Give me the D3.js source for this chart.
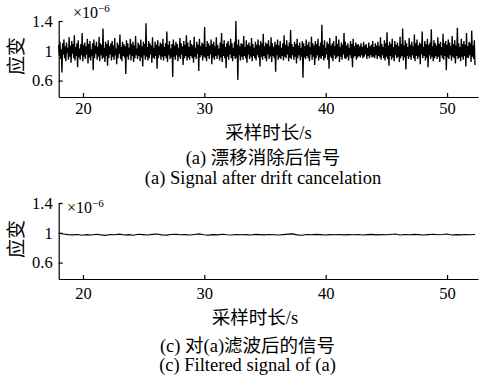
<!DOCTYPE html>
<html>
<head>
<meta charset="utf-8">
<script src="https://cdn.jsdelivr.net/npm/d3@7"></script>
<style>
  body { margin: 0; background: #fff; }
  text { fill: #000; }
</style>
</head>
<body>
<svg id="chart" width="480" height="378"></svg>
<script>
// sampling window (s) of both records
var tStart = 18.0, tEnd = 52.3;
var xTicks = [20, 30, 40, 50];
var yTicks = [0.6, 1, 1.4];

// (a) strain after drift cancelation, units of 1e-6
var rawStrain = [
  1.08,0.93,1.12,0.89,1.02,0.71,1.10,0.95,1.15,0.90,1.06,0.86,1.11,0.97,1.04,0.88,1.18,0.92,1.07,0.84,
  1.13,0.96,1.09,0.90,1.21,0.87,1.05,0.93,1.10,0.78,1.14,0.91,1.03,0.88,1.09,0.94,1.24,0.86,1.08,0.92,
  1.11,0.89,1.06,0.95,1.16,0.83,1.09,0.91,1.13,0.87,1.02,0.93,1.10,0.74,1.15,0.90,1.07,0.96,1.12,0.88,
  1.05,0.92,1.19,0.86,1.10,0.94,1.08,0.89,1.30,0.91,1.04,0.85,1.12,0.93,1.09,0.80,1.14,0.90,1.06,0.95,
  1.10,0.87,1.13,0.92,1.07,0.88,1.17,0.94,1.03,0.82,1.11,0.90,1.08,0.96,1.22,0.89,1.05,0.86,1.12,0.93,
  1.09,0.91,1.06,0.69,1.14,0.92,1.10,0.88,1.04,0.95,1.16,0.87,1.09,0.93,1.12,0.85,1.07,0.90,1.20,0.94,
  1.03,0.89,1.11,0.93,1.08,0.86,1.15,0.91,1.06,0.79,1.12,0.94,1.09,0.88,1.37,0.92,1.05,0.87,1.13,0.90,
  1.10,0.95,1.07,0.84,1.18,0.91,1.04,0.89,1.12,0.93,1.08,0.76,1.14,0.90,1.06,0.94,1.11,0.88,1.09,0.92,
  1.16,0.87,1.05,0.93,1.10,0.90,1.26,0.85,1.08,0.94,1.13,0.89,1.03,0.91,1.09,0.65,1.15,0.92,1.07,0.88,
  1.12,0.94,1.09,0.86,1.04,0.92,1.17,0.89,1.10,0.95,1.06,0.81,1.13,0.90,1.08,0.93,1.21,0.87,1.11,0.91,
  1.05,0.88,1.14,0.93,1.09,0.90,1.07,0.84,1.19,0.92,1.04,0.89,1.12,0.96,1.08,0.73,1.16,0.91,1.06,0.94,
  1.11,0.87,1.09,0.92,1.32,0.90,1.05,0.86,1.13,0.93,1.10,0.89,1.07,0.95,1.15,0.82,1.09,0.91,1.12,0.88,
  1.06,0.93,1.18,0.89,1.08,0.94,1.03,0.87,1.11,0.91,1.24,0.85,1.09,0.93,1.14,0.90,1.05,0.77,1.10,0.92,
  1.13,0.88,1.07,0.95,1.16,0.90,1.10,0.86,1.04,0.93,1.12,0.89,1.40,0.91,1.08,0.61,1.15,0.94,1.06,0.87,
  1.10,0.92,1.09,0.88,1.20,0.93,1.05,0.90,1.14,0.84,1.08,0.95,1.11,0.89,1.06,0.92,1.17,0.86,1.09,0.93,
  1.04,0.90,1.12,0.87,1.08,0.94,1.15,0.91,1.07,0.79,1.13,0.92,1.10,0.88,1.23,0.93,1.06,0.90,1.11,0.86,
  1.09,0.95,1.14,0.89,1.06,0.92,1.18,0.85,1.10,0.93,1.05,0.90,1.12,0.72,1.08,0.94,1.15,0.88,1.07,0.91,
  1.13,0.89,1.04,0.93,1.10,0.87,1.21,0.92,1.08,0.90,1.14,0.95,1.06,0.86,1.11,0.91,1.28,0.89,1.09,0.94,
  1.05,0.88,1.12,0.92,1.09,0.83,1.16,0.90,1.07,0.94,1.11,0.87,1.04,0.92,1.13,0.64,1.10,0.91,1.06,0.89,
  1.15,0.93,1.08,0.90,1.12,0.86,1.05,0.95,1.19,0.88,1.10,0.92,1.07,0.81,1.13,0.90,1.09,0.94,1.16,0.87,
  1.06,0.91,1.11,0.89,1.35,0.93,1.08,0.87,1.14,0.90,1.04,0.95,1.12,0.88,1.09,0.76,1.17,0.92,1.07,0.90,
  1.10,0.86,1.13,0.94,1.06,0.89,1.20,0.91,1.09,0.93,1.15,0.85,1.05,0.92,1.11,0.88,1.08,0.95,1.24,0.90,
  1.12,0.89,1.07,0.92,1.10,0.87,1.04,0.94,1.13,0.90,1.09,0.78,1.16,0.91,1.06,0.93,1.11,0.88,1.08,0.91,
  1.09,0.93,1.06,0.91,1.10,0.94,1.05,0.90,1.12,0.92,1.07,0.95,1.09,0.89,1.04,0.93,1.11,0.90,1.06,0.94,
  1.08,0.91,1.13,0.92,1.05,0.90,1.10,0.94,1.07,0.89,1.12,0.93,1.06,0.91,1.18,0.88,1.09,0.94,1.05,0.90,
  1.14,0.87,1.10,0.92,1.25,0.89,1.07,0.80,1.12,0.93,1.09,0.88,1.16,0.91,1.05,0.86,1.13,0.94,1.08,0.90,
  1.11,0.92,1.06,0.85,1.19,0.90,1.09,0.93,1.30,0.87,1.07,0.91,1.14,0.75,1.10,0.93,1.05,0.89,1.17,0.92,
  1.08,0.88,1.12,0.94,1.06,0.90,1.22,0.86,1.10,0.93,1.15,0.89,1.07,0.92,1.11,0.82,1.09,0.95,1.26,0.90,
  1.05,0.93,1.13,0.87,1.09,0.91,1.16,0.78,1.08,0.94,1.11,0.89,1.29,0.92,1.06,0.86,1.14,0.90,1.10,0.93,
  1.07,0.89,1.18,0.92,1.09,0.85,1.12,0.94,1.05,0.90,1.23,0.88,1.10,0.93,1.13,0.74,1.08,0.91,1.15,0.89,
  1.11,0.94,1.06,0.87,1.20,0.92,1.09,0.90,1.14,0.83,1.07,0.93,1.31,0.89,1.10,0.91,1.05,0.86,1.16,0.92,
  1.09,0.88,1.13,0.93,1.08,0.79,1.24,0.91,1.06,0.90,1.12,0.94,1.10,0.85,1.27,0.92,1.07,0.89,1.14,0.81
];

// (c) filtered strain, units of 1e-6
var filtStrain = [
  0.995,0.985,0.975,0.972,0.978,0.968,0.976,0.970,0.980,0.972,0.966,0.978,0.974,0.982,0.970,0.976,0.968,0.980,0.975,0.971,
  0.979,0.983,0.972,0.969,0.977,0.981,0.973,0.976,0.970,0.978,0.985,0.974,0.969,0.976,0.972,0.980,0.974,0.971,0.977,0.973,
  0.976,0.970,0.979,0.975,0.972,0.978,0.974,0.970,0.976,0.982,0.986,0.972,0.968,0.977,0.973,0.979,0.975,0.971,0.976,0.974,
  0.978,0.972,0.976,0.973,0.977,0.970,0.975,0.979,0.972,0.976,0.974,0.978,0.983,0.970,0.977,0.973,0.979,0.975,0.971,0.976,
  0.980,0.973,0.977,0.984,0.970,0.976,0.972,0.978,0.974,0.977
];

var svg = d3.select("#chart");
var serif = "'Liberation Serif', 'Times New Roman', serif";
var cjk = "'Noto Sans CJK SC', sans-serif";

var x = d3.scaleLinear().domain([18, 52.55]).range([58.7, 478]);

// put CJK runs and Latin runs in their own tspans
function mixedText(sel, str) {
  str.split(/([\u4e00-\u9fff]+)/).forEach(function (part) {
    if (!part) return;
    sel.append("tspan")
      .style("font-family", /[\u4e00-\u9fff]/.test(part) ? cjk : serif)
      .text(part);
  });
}

function panel(values, top, bottom, opt) {
  var y = d3.scaleLinear().domain([0.38, 1.4]).range([bottom, top]);
  var dt = (tEnd - tStart) / (values.length - 1);

  var line = d3.line()
    .x(function (d, i) { return x(tStart + i * dt); })
    .y(function (d) { return y(d); });

  svg.append("path")
    .datum(values)
    .attr("d", line)
    .attr("fill", "none")
    .attr("stroke", "#000")
    .attr("stroke-width", opt.lineW);

  // axes, ticks pointing inward
  var gx = svg.append("g")
    .attr("transform", "translate(0," + bottom + ")")
    .call(d3.axisBottom(x).tickValues(xTicks).tickSizeInner(-4).tickSizeOuter(0).tickPadding(opt.xPad));
  var gy = svg.append("g")
    .attr("transform", "translate(" + x.range()[0] + ",0)")
    .call(d3.axisLeft(y).tickValues(yTicks).tickFormat(d3.format("~g")).tickSizeInner(-4).tickSizeOuter(0).tickPadding(6));
  [gx, gy].forEach(function (g) {
    g.attr("font-family", serif).attr("font-size", 16);
    g.selectAll("text").style("font-family", serif).style("font-size", "16.5px").attr("fill", "#000");
    g.selectAll("line, path").attr("stroke", "#000").attr("stroke-width", 1.2);
  });

  var ex = svg.append("text").attr("x", opt.expX).attr("y", opt.expY)
    .style("font-family", serif).style("font-size", "16px");
  ex.append("tspan").text("\u00d710");
  ex.append("tspan").attr("dy", -6).style("font-size", "11px").text("\u22126");

  svg.append("text")
    .attr("transform", "translate(23," + opt.yLabelMid + ") rotate(-90)")
    .attr("text-anchor", "middle")
    .style("font-family", cjk).style("font-size", "19px")
    .text("应变");

  var xl = svg.append("text")
    .attr("x", opt.labelX).attr("y", bottom + opt.labelDy)
    .attr("text-anchor", "middle")
    .style("font-size", "18.5px");
  mixedText(xl, "采样时长/s");

  opt.captions.forEach(function (c, i) {
    var t = svg.append("text")
      .attr("x", opt.capX).attr("y", bottom + opt.capDy[i])
      .attr("text-anchor", "middle")
      .style("font-size", "18.5px");
    mixedText(t, c);
  });
}

panel(rawStrain, 21, 97, {
  lineW: 1.35, xPad: 5, expX: 73, expY: 18, yLabelMid: 56,
  labelX: 268.5, labelDy: 41.5, capX: 263, capDy: [66.5, 87],
  captions: ["(a) 漂移消除后信号", "(a) Signal after drift cancelation"]
});
panel(filtStrain, 203, 279, {
  lineW: 1.1, xPad: 8, expX: 67, expY: 213, yLabelMid: 239,
  labelX: 255, labelDy: 44.5, capX: 247.5, capDy: [72.5, 92],
  captions: ["(c) 对(a)滤波后的信号", "(c) Filtered signal of (a)"]
});
</script>
</body>
</html>
